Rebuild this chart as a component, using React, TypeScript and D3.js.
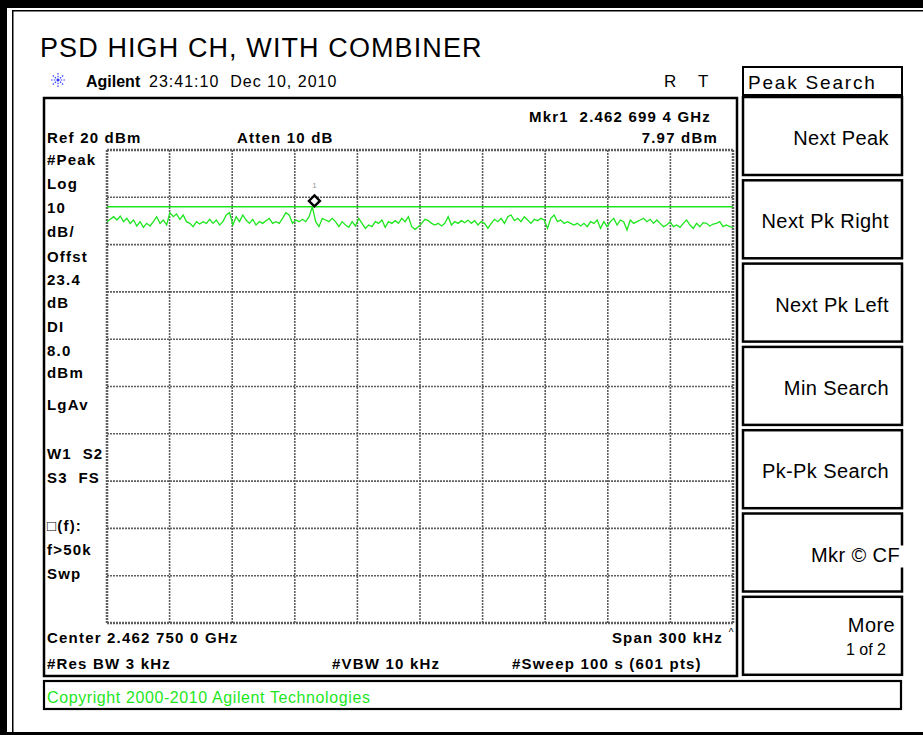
import React from "react";
import * as d3 from "d3";

const W = 923;
const H = 735;

// analyzer settings
const centerGHz = 2.46275;
const spanKHz = 300;
const refLevel = 20;
const dbPerDiv = 10;
const divisions = 10;
const displayLine = 8.0;
const markerFreqGHz = 2.4626994;
const markerLevel = 7.97;

// trace (dBm), evenly spaced across the span
const trace = [
  4.85, 5.34, 5.9, 5.2, 6.04, 4.85, 5.55, 4.49, 5.2, 3.93,
  4.85, 3.65, 4.49, 3.93, 4.85, 5.9, 4.49, 5.2, 4.14, 6.75,
  5.9, 6.47, 5.34, 6.26, 4.85, 4.49, 3.79, 4.85, 4.35, 4.85,
  4.49, 5.34, 4.49, 5.2, 4.14, 4.85, 6.26, 6.75, 4.14, 5.9,
  4.85, 6.26, 5.2, 4.49, 5.34, 4.14, 4.85, 4.49, 5.06, 5.55,
  4.49, 4.85, 4.49, 5.55, 6.75, 6.26, 4.49, 5.2, 4.85, 5.34,
  4.85, 5.9, 7.97, 4.85, 3.79, 5.55, 5.2, 4.85, 5.55, 4.85,
  3.79, 4.85, 4.14, 3.65, 4.85, 3.93, 5.55, 4.49, 3.43, 4.14,
  3.79, 4.85, 4.49, 5.2, 3.65, 4.85, 4.49, 5.06, 4.49, 5.55,
  4.85, 5.9, 3.79, 3.22, 3.79,
  4.49, 5.34, 5.06, 4.49, 4.14, 4.49, 3.93, 4.49, 5.9, 4.14,
  4.85, 4.49, 5.06, 4.63, 5.2, 4.49, 5.06, 4.14, 4.85, 4.49,
  3.43, 4.49, 5.34, 4.85, 5.55, 4.49, 5.9, 6.26, 5.06, 5.55,
  4.85, 5.9, 5.2, 4.49, 5.34, 5.06, 5.55, 5.2, 3.43, 5.55,
  6.26, 4.85, 5.2, 4.49, 4.85, 4.49, 4.14, 4.49, 3.93, 4.49,
  3.79, 4.85, 4.49, 5.2, 3.43, 4.85, 3.79, 4.85, 5.55, 4.14,
  5.2, 4.85, 3.08, 5.2, 4.49, 4.85, 5.2, 5.55, 4.85, 5.34,
  4.49, 5.2, 4.49, 3.79, 4.14, 4.85, 3.79, 4.14, 3.65, 4.49,
  5.2, 4.14, 3.43, 4.49, 3.79, 4.63, 4.49, 3.93, 4.35, 4.49,
  4.85, 3.79, 4.14, 3.79, 3.65,
];

const title = "PSD HIGH CH, WITH COMBINER";
const leftLabels = [
  "#Peak", "Log", "10", "dB/", "Offst", "23.4", "dB", "DI", "8.0", "dBm",
  "LgAv", "W1  S2", "S3  FS", "\u25A1(f):", "f>50k", "Swp",
];
const softkeys = [
  "Next Peak", "Next Pk Right", "Next Pk Left", "Min Search",
  "Pk-Pk Search", "Mkr \u00A9 CF", "More",
];

const green = "#1ee61e";
const grid = "#5e5e5e";
const bold = { fontFamily: "Liberation Sans, Arial, sans-serif", fontWeight: 700, fontSize: 15, letterSpacing: 1.2, whiteSpace: "pre" } as any;
const plain = { fontFamily: "Liberation Sans, Arial, sans-serif" };

export default function App() {
  const plot = { left: 107, right: 733, top: 150, bottom: 623 };

  const x = d3.scaleLinear().domain([-spanKHz / 2, spanKHz / 2]).range([plot.left, plot.right]);
  const y = d3.scaleLinear()
    .domain([refLevel - dbPerDiv * divisions, refLevel])
    .range([plot.bottom, plot.top]);

  // one grid line per division
  const xDivs = d3.range(divisions + 1).map(i => -spanKHz / 2 + (i * spanKHz) / divisions);
  const yDivs = d3.range(divisions + 1).map(i => refLevel - i * dbPerDiv);

  const freqAt = (i: number) => -spanKHz / 2 + (i * spanKHz) / (trace.length - 1);
  const line = d3.line<number>().x((_, i) => x(freqAt(i))).y(d => y(d));

  const mx = x((markerFreqGHz - centerGHz) * 1e6);
  const my = y(markerLevel) - 6;

  // label baselines for the left annotation column
  const labelY = [165, 189, 213, 237, 262, 285, 308, 332, 356, 378, 410, 459, 483, 531, 555, 579];

  const keyTop = (i: number) => 97 + i * 83.3;

  return (
    <svg width={W} height={H} style={{ position: "absolute", left: 0, top: 0, background: "#fff" }}>
      {/* outer frame */}
      <rect x={0} y={0} width={W} height={8} fill="#000" />
      <rect x={0} y={0} width={7} height={H} fill="#000" />
      <rect x={0} y={732} width={W} height={3} fill="#000" />
      <line x1={12} x2={W} y1={10.75} y2={10.75} stroke="#000" strokeWidth={1.5} />
      <line x1={12.75} x2={12.75} y1={10} y2={732} stroke="#000" strokeWidth={1.5} />

      <text x={40} y={57} style={{ ...plain, fontSize: 27, letterSpacing: 1.1 }}>{title}</text>

      {/* agilent logo */}
      <g transform="translate(58,80)" stroke="#3340ff" strokeWidth={1.2} strokeDasharray="1.5 1.2">
        {d3.range(8).map(k => {
          const a = (k * Math.PI) / 4;
          return <line key={k} x1={0} y1={0} x2={8 * Math.cos(a)} y2={7 * Math.sin(a)} />;
        })}
      </g>
      <text x={86} y={87} style={{ ...plain, fontSize: 16, fontWeight: 700 }}>Agilent</text>
      <text x={149} y={87} style={{ ...plain, fontSize: 16, letterSpacing: 1, whiteSpace: "pre" }}>23:41:10  Dec 10, 2010</text>
      <text x={664} y={87} style={{ ...plain, fontSize: 17 }}>R</text>
      <text x={698} y={87} style={{ ...plain, fontSize: 17 }}>T</text>

      {/* screen box */}
      <rect x={44} y={98} width={693} height={578} fill="none" stroke="#000" strokeWidth={2.5} />

      <text x={711} y={122} textAnchor="end" style={bold}>Mkr1  2.462 699 4 GHz</text>
      <text x={47} y={143} style={bold}>Ref 20 dBm</text>
      <text x={237} y={143} style={bold}>Atten 10 dB</text>
      <text x={718} y={143} textAnchor="end" style={bold}>{markerLevel.toFixed(2)} dBm</text>

      {leftLabels.map((t, i) => (
        <text key={t} x={47} y={labelY[i]} style={bold}>{t}</text>
      ))}

      {/* graticule */}
      {xDivs.map((v, i) => (
        <line key={"v" + i} x1={x(v)} x2={x(v)} y1={plot.top} y2={plot.bottom}
          stroke={grid} strokeWidth={i === 0 || i === divisions ? 2.5 : 1.6} strokeDasharray="2 1" />
      ))}
      {yDivs.map((v, i) => (
        <line key={"h" + i} x1={plot.left} x2={plot.right} y1={y(v)} y2={y(v)}
          stroke={grid} strokeWidth={i === 0 || i === divisions ? 2.5 : 1.6} strokeDasharray="2 1" />
      ))}

      {/* display line and trace */}
      <line x1={plot.left} x2={plot.right} y1={y(displayLine)} y2={y(displayLine)} stroke={green} strokeWidth={1.6} />
      <path d={line(trace) || ""} fill="none" stroke={green} strokeWidth={1.3} />

      {/* marker */}
      <path d={`M${mx},${my - 5.5}L${mx + 5.5},${my}L${mx},${my + 5.5}L${mx - 5.5},${my}Z`} fill="#fff" stroke="#000" strokeWidth={2.4} />
      <text x={mx} y={my - 13} textAnchor="middle" fill="#999" style={{ ...plain, fontSize: 8 }}>1</text>

      <text x={47} y={643} style={bold}>Center 2.462 750 0 GHz</text>
      <text x={723} y={643} textAnchor="end" style={bold}>Span 300 kHz</text>
      <text x={47} y={669} style={bold}>#Res BW 3 kHz</text>
      <text x={332} y={669} style={bold}>#VBW 10 kHz</text>
      <text x={512} y={669} style={bold}>#Sweep 100 s (601 pts)</text>
      <text x={731} y={636} textAnchor="middle" style={{ ...plain, fontSize: 10 }}>^</text>

      {/* copyright bar */}
      <rect x={44} y={681} width={857} height={28} fill="none" stroke="#000" strokeWidth={2.2} />
      <text x={47} y={703} fill={green} style={{ ...plain, fontSize: 16, letterSpacing: 0.6 }}>Copyright 2000-2010 Agilent Technologies</text>

      {/* softkey panel */}
      <rect x={743} y={67} width={159} height={28} fill="none" stroke="#000" strokeWidth={2} />
      <text x={748} y={89} style={{ ...plain, fontSize: 19, letterSpacing: 1.8 }}>Peak Search</text>
      {softkeys.map((k, i) => {
        const top = keyTop(i);
        const isMore = k === "More";
        const endX = k.startsWith("Mkr") ? 900 : 889;
        return (
          <g key={k}>
            <rect x={743} y={top} width={159} height={78} fill="none" stroke="#000" strokeWidth={2.5} />
            {k.startsWith("Mkr") && <rect x={888} y={top + 32} width={16} height={22} fill="#fff" />}
            <text x={isMore ? 895 : endX} y={top + (isMore ? 35 : 48)} textAnchor="end"
              style={{ ...plain, fontSize: 20, letterSpacing: 0.4 }}>{k}</text>
            {isMore && (
              <text x={886} y={top + 58} textAnchor="end" style={{ ...plain, fontSize: 16 }}>1 of 2</text>
            )}
          </g>
        );
      })}
    </svg>
  );
}
